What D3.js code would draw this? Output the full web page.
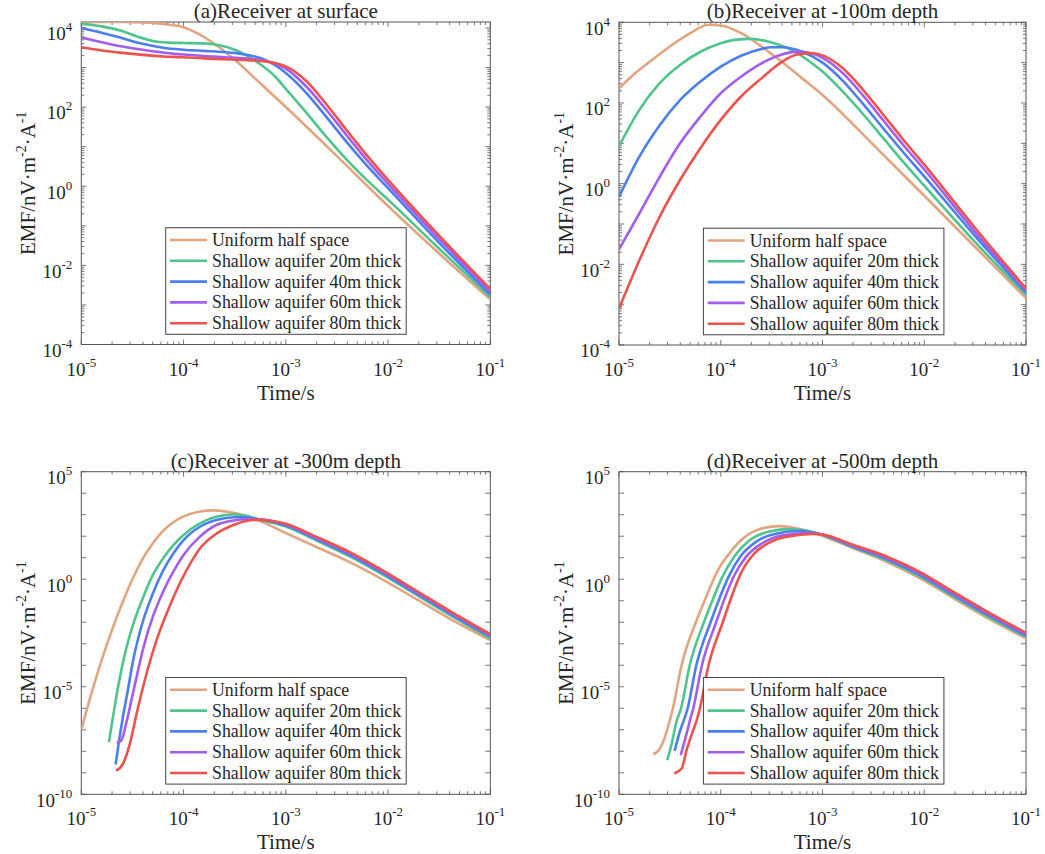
<!DOCTYPE html>
<html>
<head>
<meta charset="utf-8">
<script src="https://cdn.jsdelivr.net/npm/d3@7"></script>
<style>
  body { margin: 0; background: #fff; }
  svg text { font-family: "Liberation Serif", "Times New Roman", "DejaVu Serif", serif; fill: #262626; }
</style>
</head>
<body>
<svg id="chart" width="1045" height="854" font-family="Liberation Serif, Times New Roman, serif"></svg>
<script>
// legend / panel text
const seriesNames = [
  "Uniform half space",
  "Shallow aquifer 20m thick",
  "Shallow aquifer 40m thick",
  "Shallow aquifer 60m thick",
  "Shallow aquifer 80m thick"
];
const seriesColors = ["#e3a57f", "#4fc48c", "#4a7ff0", "#a35df0", "#ee524c"];
const panelTitles = [
  "(a)Receiver at surface",
  "(b)Receiver at -100m depth",
  "(c)Receiver at -300m depth",
  "(d)Receiver at -500m depth"
];

// tick exponents (powers of ten)
const xTickExp = [-5, -4, -3, -2, -1];
const yTickExpAB = [-4, -2, 0, 2, 4];
const yTickExpCD = [-10, -5, 0, 5];
const yDomainExp = [[-4, 4.15], [-4, 4], [-10, 5], [-10, 5]];

// curves as [log10(time), log10(EMF)]
// (a) receiver at surface
const aUniform = [[-5,4.15],[-4.6,4.15],[-4.4,4.14],[-4.2,4.1],[-4.0,4.02],[-3.84,3.83],[-3.71,3.62],[-3.51,3.22],[-3.3,2.72],[-3.0,2.0],[-2.5,0.76],[-2.0,-0.5],[-1.5,-1.7],[-1.0,-2.86]];
const a20 = [[-5,4.11],[-4.8,4.04],[-4.6,3.92],[-4.45,3.78],[-4.3,3.67],[-4.15,3.63],[-4.0,3.62],[-3.8,3.61],[-3.65,3.56],[-3.5,3.45],[-3.3,3.17],[-3.1,2.76],[-3.0,2.46],[-2.8,1.86],[-2.6,1.24],[-2.4,0.66],[-2.2,0.14],[-2.0,-0.34],[-1.5,-1.58],[-1.0,-2.8]];
const a40 = [[-5,4.0],[-4.8,3.88],[-4.6,3.74],[-4.4,3.6],[-4.2,3.5],[-4.0,3.45],[-3.8,3.42],[-3.6,3.39],[-3.4,3.33],[-3.25,3.24],[-3.1,3.05],[-3.0,2.86],[-2.8,2.36],[-2.6,1.74],[-2.4,1.1],[-2.2,0.5],[-2.0,-0.05],[-1.5,-1.43],[-1.0,-2.74]];
const a60 = [[-5,3.76],[-4.8,3.64],[-4.6,3.53],[-4.4,3.45],[-4.2,3.38],[-4.0,3.33],[-3.8,3.29],[-3.6,3.26],[-3.4,3.23],[-3.2,3.17],[-3.1,3.1],[-3.0,2.97],[-2.8,2.52],[-2.6,1.92],[-2.4,1.27],[-2.2,0.64],[-2.0,0.06],[-1.5,-1.33],[-1.0,-2.67]];
const a80 = [[-5,3.51],[-4.8,3.43],[-4.6,3.37],[-4.4,3.32],[-4.2,3.28],[-4.0,3.26],[-3.8,3.23],[-3.6,3.21],[-3.4,3.19],[-3.2,3.15],[-3.1,3.11],[-3.0,3.03],[-2.8,2.66],[-2.6,2.06],[-2.4,1.4],[-2.2,0.76],[-2.0,0.16],[-1.5,-1.25],[-1.0,-2.6]];

// (b) receiver at -100m
const bUniform = [[-5,2.36],[-4.85,2.72],[-4.7,3.02],[-4.5,3.4],[-4.3,3.73],[-4.12,3.94],[-4.0,3.92],[-3.8,3.73],[-3.6,3.4],[-3.4,3.02],[-3.2,2.61],[-3.0,2.2],[-2.5,0.96],[-2.0,-0.3],[-1.5,-1.57],[-1.0,-2.84]];
const b20 = [[-5,0.93],[-4.8,1.83],[-4.6,2.49],[-4.4,2.94],[-4.2,3.27],[-4.0,3.48],[-3.85,3.57],[-3.7,3.59],[-3.5,3.5],[-3.3,3.31],[-3.1,2.98],[-3.0,2.78],[-2.8,2.28],[-2.6,1.72],[-2.4,1.12],[-2.2,0.52],[-2.0,-0.05],[-1.5,-1.45],[-1.0,-2.76]];
const b40 = [[-5,-0.33],[-4.8,0.67],[-4.6,1.45],[-4.4,2.07],[-4.2,2.53],[-4.0,2.9],[-3.8,3.17],[-3.6,3.34],[-3.5,3.38],[-3.4,3.38],[-3.2,3.27],[-3.0,3.0],[-2.8,2.55],[-2.6,1.97],[-2.4,1.36],[-2.2,0.76],[-2.0,0.18],[-1.5,-1.3],[-1.0,-2.7]];
const b60 = [[-5,-1.63],[-4.8,-0.74],[-4.6,0.17],[-4.4,1.0],[-4.2,1.66],[-4.0,2.24],[-3.8,2.65],[-3.6,2.98],[-3.4,3.2],[-3.3,3.26],[-3.2,3.27],[-3.0,3.12],[-2.8,2.74],[-2.6,2.18],[-2.4,1.56],[-2.2,0.94],[-2.0,0.35],[-1.5,-1.2],[-1.0,-2.65]];
const b80 = [[-5,-3.1],[-4.8,-1.9],[-4.6,-0.82],[-4.4,0.09],[-4.2,0.88],[-4.0,1.58],[-3.8,2.16],[-3.6,2.61],[-3.4,3.02],[-3.25,3.2],[-3.1,3.24],[-3.0,3.18],[-2.8,2.86],[-2.6,2.32],[-2.4,1.7],[-2.2,1.07],[-2.0,0.47],[-1.5,-1.1],[-1.0,-2.6]];

// (c) receiver at -300m
const cUniform = [[-5,-7.01],[-4.9,-5.3],[-4.8,-3.75],[-4.7,-2.36],[-4.6,-1.12],[-4.5,0.0],[-4.4,0.95],[-4.3,1.67],[-4.2,2.25],[-4.1,2.65],[-4.0,2.92],[-3.85,3.14],[-3.7,3.2],[-3.55,3.12],[-3.4,2.95],[-3.28,2.76],[-3.0,2.15],[-2.7,1.5],[-2.37,0.78],[-2.04,-0.05],[-1.71,-0.96],[-1.39,-1.85],[-1.0,-2.83]];
const c20 = [[-4.73,-7.58],[-4.69,-6.4],[-4.64,-5.0],[-4.58,-3.6],[-4.5,-2.2],[-4.4,-0.9],[-4.3,0.2],[-4.2,0.97],[-4.1,1.59],[-4.0,2.06],[-3.84,2.6],[-3.68,2.91],[-3.51,3.01],[-3.4,2.96],[-3.28,2.8],[-3.0,2.45],[-2.7,1.8],[-2.37,1.05],[-2.04,0.18],[-1.71,-0.76],[-1.39,-1.68],[-1.0,-2.75]];
const c40 = [[-4.664,-8.62],[-4.63,-7.48],[-4.6,-6.6],[-4.55,-5.3],[-4.49,-3.7],[-4.4,-2.0],[-4.3,-0.66],[-4.2,0.4],[-4.1,1.2],[-4.0,1.82],[-3.84,2.44],[-3.68,2.75],[-3.5,2.88],[-3.4,2.88],[-3.28,2.8],[-3.0,2.5],[-2.7,1.86],[-2.37,1.12],[-2.04,0.25],[-1.71,-0.69],[-1.39,-1.61],[-1.0,-2.67]];
const c60 = [[-4.654,-7.6],[-4.61,-7.5],[-4.556,-6.6],[-4.49,-5.2],[-4.39,-3.13],[-4.3,-1.74],[-4.2,-0.58],[-4.1,0.35],[-4.0,1.13],[-3.84,1.98],[-3.68,2.52],[-3.51,2.73],[-3.4,2.79],[-3.28,2.79],[-3.0,2.55],[-2.7,1.92],[-2.37,1.19],[-2.04,0.32],[-1.71,-0.63],[-1.39,-1.55],[-1.0,-2.61]];
const c80 = [[-4.66,-8.9],[-4.59,-8.56],[-4.524,-7.63],[-4.458,-6.23],[-4.361,-4.37],[-4.263,-2.82],[-4.165,-1.59],[-4.067,-0.5],[-3.969,0.43],[-3.838,1.44],[-3.675,2.13],[-3.512,2.52],[-3.4,2.7],[-3.28,2.76],[-3.15,2.72],[-3.0,2.58],[-2.7,1.97],[-2.37,1.25],[-2.04,0.38],[-1.71,-0.57],[-1.39,-1.49],[-1.0,-2.55]];

// (d) receiver at -500m
const dUniform = [[-4.663,-8.14],[-4.597,-7.87],[-4.548,-7.33],[-4.5,-6.55],[-4.47,-6.0],[-4.385,-4.0],[-4.245,-2.0],[-4.15,-0.9],[-4.07,0.0],[-4.007,0.6],[-3.94,1.05],[-3.81,1.78],[-3.614,2.34],[-3.42,2.47],[-3.22,2.33],[-3.025,2.06],[-2.7,1.44],[-2.37,0.81],[-2.04,0.04],[-1.71,-0.89],[-1.39,-1.77],[-1.0,-2.75]];
const d20 = [[-4.526,-8.41],[-4.48,-7.6],[-4.44,-6.7],[-4.39,-6.0],[-4.305,-4.0],[-4.165,-2.0],[-4.07,-0.85],[-3.99,0.05],[-3.86,1.1],[-3.72,1.8],[-3.52,2.22],[-3.32,2.33],[-3.15,2.25],[-3.0,2.07],[-2.7,1.48],[-2.37,0.88],[-2.04,0.12],[-1.71,-0.81],[-1.39,-1.69],[-1.0,-2.68]];
const d40 = [[-4.453,-7.98],[-4.41,-7.2],[-4.325,-6.0],[-4.24,-4.0],[-4.1,-2.0],[-4.005,-0.8],[-3.925,0.1],[-3.8,1.1],[-3.65,1.75],[-3.45,2.13],[-3.22,2.24],[-3.1,2.17],[-3.0,2.07],[-2.7,1.52],[-2.37,0.94],[-2.04,0.19],[-1.71,-0.74],[-1.39,-1.62],[-1.0,-2.62]];
const d60 = [[-4.394,-8.18],[-4.335,-7.17],[-4.302,-6.55],[-4.27,-6.0],[-4.185,-4.0],[-4.045,-2.0],[-3.95,-0.75],[-3.87,0.15],[-3.75,1.05],[-3.6,1.65],[-3.4,2.03],[-3.155,2.15],[-3.0,2.08],[-2.7,1.56],[-2.37,1.0],[-2.04,0.26],[-1.71,-0.67],[-1.39,-1.55],[-1.0,-2.55]];
const d80 = [[-4.457,-9.03],[-4.384,-8.8],[-4.335,-7.94],[-4.27,-7.01],[-4.236,-6.55],[-4.205,-6.0],[-4.12,-4.0],[-3.98,-2.0],[-3.885,-0.7],[-3.81,0.2],[-3.68,1.15],[-3.516,1.72],[-3.35,1.98],[-3.09,2.1],[-3.0,2.08],[-2.7,1.6],[-2.37,1.06],[-2.04,0.33],[-1.71,-0.6],[-1.39,-1.48],[-1.0,-2.49]];

const panelSeries = [
  [aUniform, a20, a40, a60, a80],
  [bUniform, b20, b40, b60, b80],
  [cUniform, c20, c40, c60, c80],
  [dUniform, d20, d40, d60, d80]
];
const panelYTicks = [yTickExpAB, yTickExpAB, yTickExpCD, yTickExpCD];

// layout of the four axes boxes
const frames = [
  { left: 81.3, right: 490.3, top: 22, bottom: 344.5 },
  { left: 619, right: 1026, top: 22.3, bottom: 345 },
  { left: 81.3, right: 490.3, top: 471.7, bottom: 794.3 },
  { left: 619, right: 1026, top: 471.7, bottom: 794.3 }
];

const svg = d3.select("#chart");
const axisColor = "#555";
const defs = svg.append("defs");

function powText(sel, exp, supSize) {
  sel.append("tspan").text("10");
  sel.append("tspan").attr("dy", -9).attr("font-size", supSize).text(exp);
}

function minorValues(lo, hi) {
  const out = [];
  for (let e = Math.floor(lo); e < Math.ceil(hi); e++) {
    for (let m = 2; m <= 9; m++) {
      const v = Math.log10(m) + e;
      if (v > lo && v < hi) out.push(m * Math.pow(10, e));
    }
  }
  return out;
}

function drawPanel(i) {
  const f = frames[i];
  const [ylo, yhi] = yDomainExp[i];
  const x = d3.scaleLog().domain([1e-5, 1e-1]).range([f.left, f.right]);
  const y = d3.scaleLog().domain([Math.pow(10, ylo), Math.pow(10, yhi)]).range([f.bottom, f.top]);
  const g = svg.append("g");

  // ticks, inward on all four sides
  const ticks = g.append("g").attr("stroke", axisColor).attr("stroke-width", 0.8);
  const xMajor = xTickExp.map(e => Math.pow(10, e));
  const xMinor = minorValues(-5, -1);
  const yMajor = d3.range(Math.ceil(ylo), Math.floor(yhi) + 1).map(e => Math.pow(10, e));
  const yMinor = i < 2 ? minorValues(ylo, yhi) : [];

  const xt = (vals, len) => vals.forEach(v => {
    const px = x(v);
    ticks.append("line").attr("x1", px).attr("x2", px).attr("y1", f.bottom).attr("y2", f.bottom - len);
    ticks.append("line").attr("x1", px).attr("x2", px).attr("y1", f.top).attr("y2", f.top + len);
  });
  const yt = (vals, len) => vals.forEach(v => {
    const py = y(v);
    ticks.append("line").attr("y1", py).attr("y2", py).attr("x1", f.left).attr("x2", f.left + len);
    ticks.append("line").attr("y1", py).attr("y2", py).attr("x1", f.right).attr("x2", f.right - len);
  });
  xt(xMajor, 5); xt(xMinor, 3);
  yt(yMajor, 5); yt(yMinor, 3);

  // box
  g.append("rect")
    .attr("x", f.left).attr("y", f.top)
    .attr("width", f.right - f.left).attr("height", f.bottom - f.top)
    .attr("fill", "none").attr("stroke", axisColor).attr("stroke-width", 1);

  // tick labels
  xTickExp.forEach(e => {
    g.append("text")
      .attr("x", x(Math.pow(10, e))).attr("y", f.bottom + 31)
      .attr("text-anchor", "middle").attr("font-size", 19)
      .call(powText, String(e), 13);
  });
  panelYTicks[i].forEach(e => {
    g.append("text")
      .attr("x", f.left - 9).attr("y", y(Math.pow(10, e)) + 12.3)
      .attr("text-anchor", "end").attr("font-size", 19)
      .call(powText, String(e), 13);
  });

  // title and axis labels
  const cx = (f.left + f.right) / 2;
  g.append("text").attr("x", cx).attr("y", f.top - 4)
    .attr("text-anchor", "middle").attr("font-size", 21).text(panelTitles[i]);
  g.append("text").attr("x", cx).attr("y", f.bottom + 55)
    .attr("text-anchor", "middle").attr("font-size", 21).text("Time/s");

  const cy = (f.top + f.bottom) / 2;
  const yl = g.append("text")
    .attr("transform", `translate(${f.left - 46},${cy}) rotate(-90)`)
    .attr("text-anchor", "middle").attr("font-size", 21);
  yl.append("tspan").text("EMF/nV\u00b7m");
  yl.append("tspan").attr("dy", -9).attr("font-size", 14).text("-2");
  yl.append("tspan").attr("dy", 9).text("\u00b7A");
  yl.append("tspan").attr("dy", -9).attr("font-size", 14).text("-1");

  // curves
  const clipId = "clip" + i;
  defs.append("clipPath").attr("id", clipId).append("rect")
    .attr("x", f.left).attr("y", f.top)
    .attr("width", f.right - f.left).attr("height", f.bottom - f.top);

  const line = d3.line()
    .x(d => x(Math.pow(10, d[0])))
    .y(d => y(Math.pow(10, d[1])))
    .curve(d3.curveMonotoneX);

  const curves = g.append("g").attr("clip-path", `url(#${clipId})`);
  panelSeries[i].forEach((s, k) => {
    curves.append("path").datum(s)
      .attr("d", line)
      .attr("fill", "none")
      .attr("stroke", seriesColors[k])
      .attr("stroke-width", 2.6)
      .attr("stroke-linejoin", "round");
  });

  // legend
  const lw = 240.5, lh = 106.6;
  const lx = f.left + 84.4, ly = f.bottom - 10.2 - lh;
  const lg = g.append("g");
  lg.append("rect").attr("x", lx).attr("y", ly).attr("width", lw).attr("height", lh)
    .attr("fill", "#fff").attr("stroke", "#444").attr("stroke-width", 1);
  seriesNames.forEach((name, k) => {
    const ry = ly + 12.3 + k * 20.8;
    lg.append("line").attr("x1", lx + 4.3).attr("x2", lx + 41.3)
      .attr("y1", ry).attr("y2", ry)
      .attr("stroke", seriesColors[k]).attr("stroke-width", 2.6);
    lg.append("text").attr("x", lx + 46.3).attr("y", ry + 6)
      .attr("font-size", 17.8).text(name);
  });
}

[0, 1, 2, 3].forEach(drawPanel);
</script>
</body>
</html>
